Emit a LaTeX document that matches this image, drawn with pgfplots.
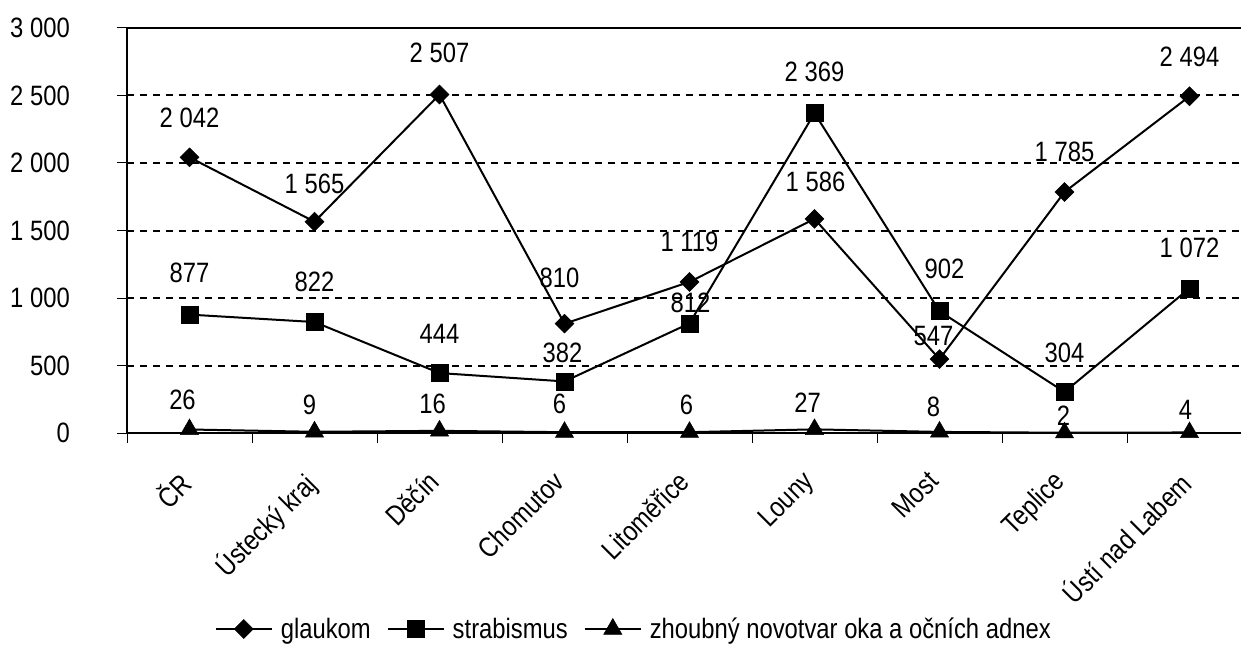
\documentclass[border=0pt]{standalone}
\usepackage{pgfplots}
\pgfplotsset{compat=1.18}
\usepackage{pgfplotstable}
\usepackage{fontspec}
\setmainfont{Liberation Sans}[FakeStretch=0.85]

\pgfplotstableread{
x y dx dy
0 2042 0 39
1 1565 0 38
2 2507 0 42
3 810 -5 46
4 1119 0 40
5 1586 1 37
6 547 -6 23
7 1785 0 40
8 2494 0 39
}\glaukom
\pgfplotstableread{
x y dx dy
0 877 0 42
1 822 0 40
2 444 0 39
3 382 -2 29
4 812 1 21
5 2369 0 41
6 902 5 42
7 304 0 39
8 1072 0 40
}\strab
\pgfplotstableread{
x y dx dy
0 26 -7 30
1 9 -5 27
2 16 -7 27
3 6 -5 28
4 6 -3 27
5 27 -7 27
6 8 -6 25
7 2 -1 17
8 4 -4 23
}\zhoub

\newcommand{\bigfont}{\fontsize{28}{32}\selectfont}

\begin{document}
\begin{tikzpicture}[font=\bigfont]
\path[use as bounding box] (0pt,0pt) rectangle (1241pt,645pt);
\begin{axis}[
  at={(127pt,212pt)}, anchor=south west,
  scale only axis, width=1114pt, height=405pt,
  xmin=-0.5, xmax=8.412, ymin=0, ymax=3000,
  axis x line*=bottom, axis y line*=left,
  axis line style={line width=2pt, -},
  clip=false,
  tick align=outside,
  major tick length=10pt,
  tick style={line width=1pt, black},
  ytick={0,500,...,2500},
  extra y ticks={3000},
  extra y tick style={grid style={solid, line width=2pt, black}},
  ymajorgrids,
  grid style={dash pattern=on 7pt off 6pt, line width=2pt, black},
  yticklabel style={anchor=east, inner sep=0pt, xshift=-47pt, font=\bigfont},
  /pgf/number format/.cd, 1000 sep={\ }, assume math mode=true,
  /pgfplots/.cd,
  xtick={-0.5,0.5,...,7.5},
  xticklabels={},
  extra x ticks={0,1,...,8},
  extra x tick labels={ČR,Ústecký kraj,Děčín,Chomutov,Litoměřice,Louny,Most,Teplice,Ústí nad Labem},
  extra x tick style={tick style={draw=none},
     xticklabel style={xshift=-13pt, yshift=-26pt, rotate=45, anchor=north east, inner sep=0pt, font=\bigfont}},
  nodes near coords,
  visualization depends on={\thisrow{dx} \as \mydx},
  visualization depends on={\thisrow{dy} \as \mydy},
  every node near coord/.append style={anchor=center, inner sep=0pt, xshift=\mydx pt, yshift=\mydy pt, font=\bigfont, text=black},
  legend columns=-1,
  legend style={at={(0.454,-0.484)}, anchor=center, draw=none, fill=none,
    font=\bigfont, nodes={inner sep=0pt},
    /tikz/every odd column/.append style={column sep=8pt},
    /tikz/every even column/.append style={column sep=16pt}},
  legend image code/.code={\draw[mark repeat=2, mark phase=2] plot coordinates {(0pt,0pt) (28pt,0pt) (56pt,0pt)};},
]
\addplot[black, line width=2pt, mark=square*, mark size=6.7pt, mark options={rotate=45, line width=0.5pt, fill=black}] table[x=x, y=y] {\glaukom};
\addlegendentry{glaukom}
\addplot[black, line width=2pt, mark=square*, mark size=8.5pt, mark options={line width=0.5pt, fill=black}] table[x=x, y=y] {\strab};
\addlegendentry{strabismus}
\addplot[black, line width=2pt, mark=triangle*, mark size=10.5pt, mark options={line width=0.5pt, fill=black}] table[x=x, y=y] {\zhoub};
\addlegendentry{zhoubný novotvar oka a očních adnex}
\end{axis}
\end{tikzpicture}
\end{document}
